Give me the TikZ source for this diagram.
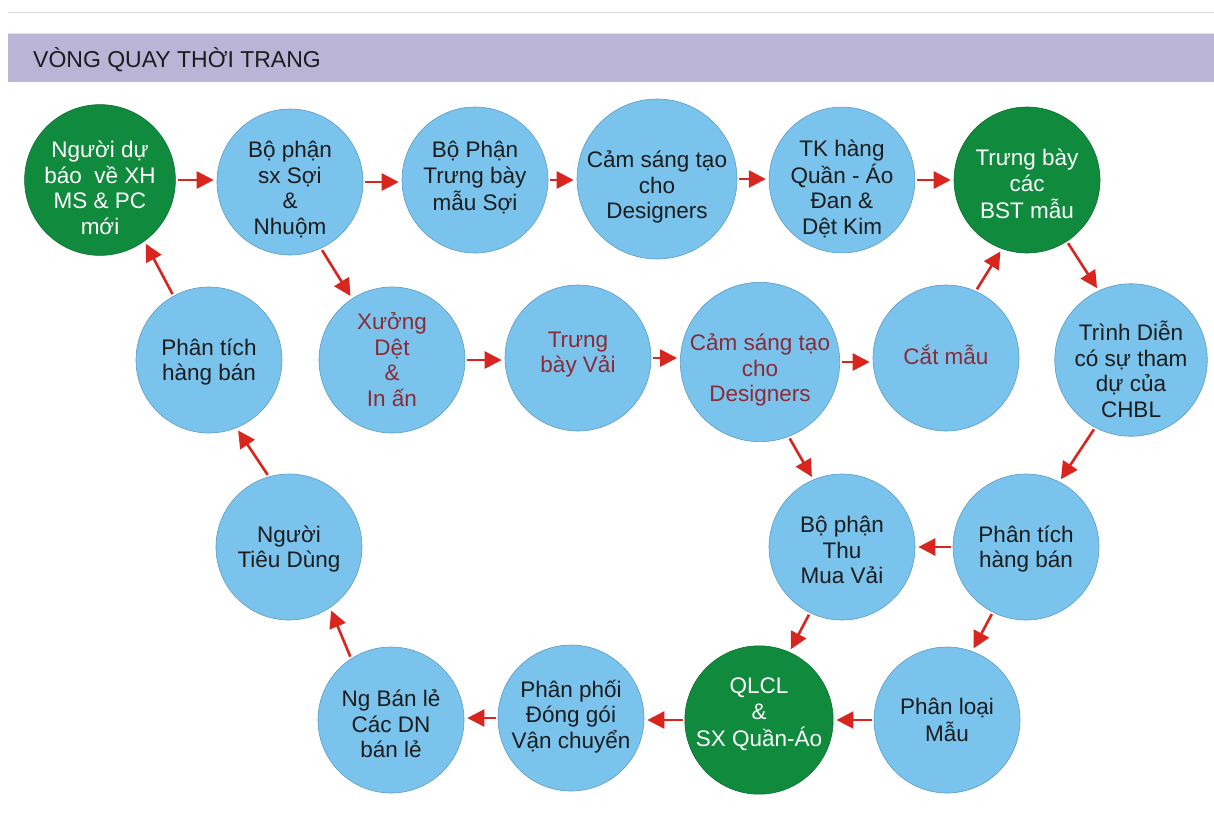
\documentclass[tikz,border=0pt]{standalone}
\usepackage{fontspec}
\setmainfont{Liberation Sans}
\usetikzlibrary{arrows.meta}
\definecolor{cblue}{HTML}{79C3EC}
\definecolor{cbord}{HTML}{5E9CC4}
\definecolor{cgreen}{HTML}{108B3D}
\definecolor{cred}{HTML}{D8261F}
\definecolor{ctxtred}{HTML}{8C2A36}
\definecolor{ctxt}{HTML}{1C1C1C}
\definecolor{cband}{HTML}{BAB4D7}
% lower the ink of a text block by #1 without changing its extent
\newcommand\btxt[2]{\raisebox{#1}[\height][\depth]{\begin{tabular}{@{}c@{}}#2\end{tabular}}}
\tikzset{
  bub/.style={circle, inner sep=0pt, fill=cblue, draw=cbord, line width=0.6pt, align=center,
    text=ctxt, font=\fontsize{22.5}{25.5}\selectfont},
  gbub/.style={bub, fill=cgreen, draw=cgreen!80!black, text=white},
  rtxt/.style={text=ctxtred},
  arr/.style={draw=cred, line width=2.6pt, -{Triangle[length=17pt,width=17pt]},
    shorten <=2pt, shorten >=3pt},
}
\begin{document}
\begin{tikzpicture}[x=1pt,y=-1pt]
\useasboundingbox (0,0) rectangle (1214,820);
\fill[white] (0,0) rectangle (1214,820);
\draw[black!15, line width=0.8pt] (8,12) -- (1214,12);
\fill[cband] (8,33) rectangle (1214,82);
\draw[black!12, line width=0.6pt] (8,33) -- (1214,33);
\node[anchor=west, inner sep=0pt, text=ctxt, font=\fontsize{23}{26}\selectfont] (title) at (33,60) {VÒNG QUAY THỜI TRANG};

% row 1
\node[gbub, minimum size=148pt] (A) at (100,180) {\btxt{-11pt}{Người dự\\báo~ về XH\\MS \& PC\\mới}};
\node[bub, minimum size=146pt] (B) at (290,182) {\btxt{-9pt}{Bộ phận\\sx Sợi\\\&\\Nhuộm}};
\node[bub, minimum size=146pt] (C) at (475,180) {\btxt{1pt}{Bộ Phận\\Trưng bày\\mẫu Sợi}};
\node[bub, minimum size=160pt] (D) at (657,179) {\btxt{-9pt}{Cảm sáng tạo\\cho\\Designers}};
\node[bub, minimum size=144pt] (E) at (842,180) {\btxt{-10pt}{TK hàng\\Quần - Áo\\Đan \&\\Dệt Kim}};
\node[gbub, minimum size=146pt] (F) at (1027,180) {\btxt{-7pt}{Trưng bày\\các\\BST mẫu}};
% row 2
\node[bub, minimum size=146pt] (G) at (209,360) {\btxt{-3pt}{Phân tích\\hàng bán}};
\node[bub, rtxt, minimum size=146pt] (H) at (392,360) {\btxt{-3pt}{Xưởng\\Dệt\\\&\\In ấn}};
\node[bub, rtxt, minimum size=146pt] (I) at (578,358) {\btxt{3pt}{Trưng\\bày Vải}};
\node[bub, rtxt, minimum size=156pt] (J) at (760,362) {\btxt{-9pt}{Cảm sáng tạo\\cho\\Designers}};
\node[bub, rtxt, minimum size=146pt] (K) at (946,358) {\btxt{-1pt}{Cắt mẫu}};
\node[bub, minimum size=140pt] (L) at (1131,360) {\btxt{-13pt}{Trình Diễn\\có sự tham\\dự của\\CHBL}};
% row 3
\node[bub, minimum size=146pt] (O) at (289,547) {\btxt{-3pt}{Người\\Tiêu Dùng}};
\node[bub, minimum size=146pt] (M) at (842,547) {\btxt{-6pt}{Bộ phận\\Thu\\Mua Vải}};
\node[bub, minimum size=146pt] (N) at (1026,547) {\btxt{-3pt}{Phân tích\\hàng bán}};
% row 4
\node[bub, minimum size=146pt] (P) at (391,720) {\btxt{-7pt}{Ng Bán lẻ\\Các DN\\bán lẻ}};
\node[bub, minimum size=146pt] (Q) at (571,718) {\btxt{0pt}{Phân phối\\Đóng gói\\Vận chuyển}};
\node[gbub, minimum size=146pt] (R) at (759,720) {\btxt{5pt}{QLCL\\\&\\SX Quần-Áo}};
\node[bub, minimum size=146pt] (S) at (947,720) {\btxt{-3pt}{Phân loại\\Mẫu}};

% horizontal arrows
\draw[arr] (A.east) -- (A.east -| B.west);
\draw[arr] (B.east) -- (B.east -| C.west);
\draw[arr] (C.east) -- (C.east -| D.west);
\draw[arr] (D.east) -- (D.east -| E.west);
\draw[arr] (E.east) -- (E.east -| F.west);
\draw[arr] (H.east) -- (H.east -| I.west);
\draw[arr] (I.east) -- (I.east -| J.west);
\draw[arr] (J.east) -- (J.east -| K.west);
\draw[arr] (N.west) -- (N.west -| M.east);
\draw[arr] (S.west) -- (S.west -| R.east);
\draw[arr] (R.west) -- (R.west -| Q.east);
\draw[arr] (Q.west) -- (Q.west -| P.east);
% diagonal arrows
\draw[arr] (G.119) -- (A.-54);
\draw[arr] (B.-65) -- (H.123);
\draw[arr] (O.106) -- (G.-68);
\draw[arr] (P.123) -- (O.-56);
\draw[arr] (K.66) -- (F.-110);
\draw[arr] (F.-57) -- (L.115);
\draw[arr] (L.-118) -- (N.63);
\draw[arr] (N.-117) -- (S.70);
\draw[arr] (M.-116) -- (R.66);
\draw[arr] (J.-69) -- (M.113);
\end{tikzpicture}
\end{document}
